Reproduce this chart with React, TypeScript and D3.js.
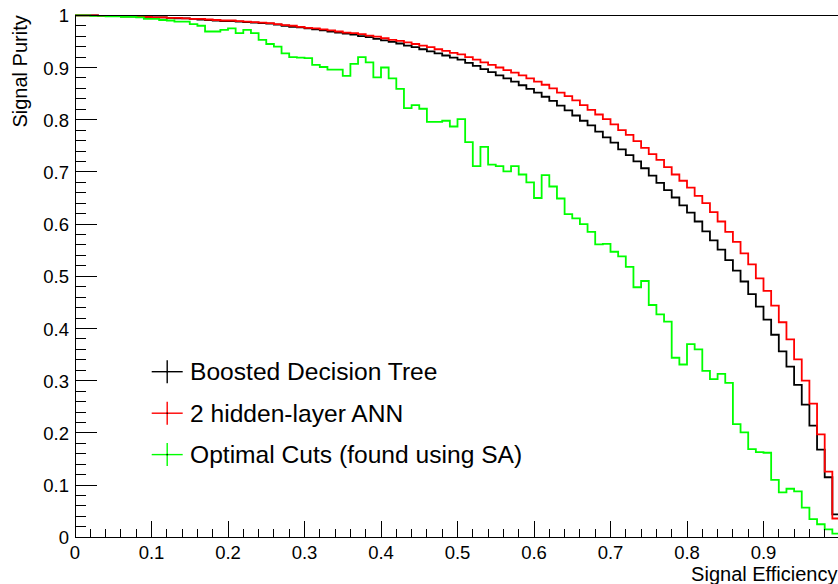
import React from 'react';
import * as d3 from 'd3';

// Histogram binning of signal efficiency: 100 bins over [0, 1]
const nBins = 100;
const effLow = 0;
const effHigh = 1;

// Boosted Decision Tree: purity per efficiency bin
const bdtPurity = [
  1.000, 1.000, 1.000, 0.999, 0.999, 0.999, 0.998, 0.998, 0.997, 0.997,
  0.996, 0.996, 0.995, 0.994, 0.994, 0.993, 0.992, 0.991, 0.990, 0.989,
  0.989, 0.988, 0.987, 0.986, 0.985, 0.984, 0.982, 0.980, 0.978, 0.977,
  0.975, 0.973, 0.971, 0.969, 0.967, 0.965, 0.963, 0.960, 0.958, 0.955,
  0.952, 0.949, 0.946, 0.942, 0.939, 0.935, 0.931, 0.927, 0.923, 0.919,
  0.915, 0.909, 0.903, 0.897, 0.891, 0.885, 0.879, 0.873, 0.866, 0.859,
  0.852, 0.844, 0.836, 0.827, 0.818, 0.808, 0.798, 0.789, 0.777, 0.766,
  0.756, 0.743, 0.732, 0.720, 0.707, 0.693, 0.679, 0.665, 0.651, 0.636,
  0.622, 0.605, 0.586, 0.569, 0.551, 0.531, 0.511, 0.490, 0.466, 0.442,
  0.417, 0.388, 0.356, 0.327, 0.292, 0.254, 0.214, 0.168, 0.115, 0.044,
];

// 2 hidden-layer ANN
const annPurity = [
  1.000, 1.000, 1.000, 0.999, 0.999, 0.999, 0.998, 0.998, 0.997, 0.997,
  0.996, 0.996, 0.995, 0.995, 0.994, 0.993, 0.993, 0.992, 0.991, 0.990,
  0.990, 0.989, 0.988, 0.987, 0.986, 0.985, 0.983, 0.981, 0.980, 0.978,
  0.976, 0.975, 0.973, 0.971, 0.969, 0.967, 0.966, 0.964, 0.961, 0.959,
  0.956, 0.953, 0.951, 0.948, 0.945, 0.942, 0.939, 0.935, 0.932, 0.928,
  0.925, 0.920, 0.915, 0.910, 0.905, 0.900, 0.895, 0.890, 0.885, 0.879,
  0.873, 0.867, 0.860, 0.852, 0.845, 0.837, 0.828, 0.819, 0.810, 0.801,
  0.791, 0.780, 0.771, 0.759, 0.746, 0.734, 0.723, 0.709, 0.695, 0.683,
  0.670, 0.654, 0.640, 0.623, 0.605, 0.585, 0.566, 0.544, 0.523, 0.496,
  0.472, 0.444, 0.412, 0.379, 0.341, 0.300, 0.256, 0.197, 0.126, 0.036,
];

// Optimal Cuts (found using SA)
const cutsPurity = [
  1.000, 1.000, 0.999, 0.999, 0.998, 0.998, 0.997, 0.997, 0.996, 0.993,
  0.993, 0.991, 0.990, 0.988, 0.988, 0.983, 0.980, 0.969, 0.969, 0.972,
  0.975, 0.966, 0.972, 0.966, 0.953, 0.945, 0.940, 0.927, 0.920, 0.919,
  0.918, 0.905, 0.901, 0.896, 0.896, 0.884, 0.907, 0.920, 0.910, 0.881,
  0.900, 0.879, 0.859, 0.822, 0.828, 0.821, 0.796, 0.796, 0.798, 0.787,
  0.801, 0.757, 0.711, 0.748, 0.714, 0.711, 0.701, 0.711, 0.695, 0.680,
  0.650, 0.694, 0.672, 0.649, 0.619, 0.611, 0.600, 0.585, 0.561, 0.562,
  0.547, 0.538, 0.518, 0.479, 0.491, 0.445, 0.427, 0.413, 0.344, 0.331,
  0.370, 0.360, 0.319, 0.303, 0.313, 0.296, 0.217, 0.201, 0.169, 0.163,
  0.162, 0.110, 0.086, 0.093, 0.088, 0.057, 0.035, 0.025, 0.015, 0.007,
];

const seriesNames = ['Boosted Decision Tree', '2 hidden-layer ANN', 'Optimal Cuts (found using SA)'];
const seriesColors = ['#000000', '#ff0000', '#00ff00'];
const seriesValues = [bdtPurity, annPurity, cutsPurity];

const xTickLabels = ['0', '0.1', '0.2', '0.3', '0.4', '0.5', '0.6', '0.7', '0.8', '0.9'];
const yTickLabels = ['0', '0.1', '0.2', '0.3', '0.4', '0.5', '0.6', '0.7', '0.8', '0.9', '1'];
const xTitle = 'Signal Efficiency';
const yTitle = 'Signal Purity';

const W = 838;
const H = 584;
const FONT = '"Liberation Sans", Arial, Helvetica, sans-serif';

export default function App() {
  const x = d3.scaleLinear().domain([effLow, effHigh]).range([75, 840]);
  const y = d3.scaleLinear().domain([0, 1]).range([537.3, 15.3]);
  const binWidth = (effHigh - effLow) / nBins;

  const stepLine = d3
    .line<[number, number]>()
    .x((d) => x(d[0]))
    .y((d) => y(d[1]))
    .curve(d3.curveStepAfter);

  const histPath = (vals: number[]) => {
    const pts: [number, number][] = vals.map((v, i) => [effLow + i * binWidth, v]);
    pts.push([effHigh, vals[vals.length - 1]]);
    return stepLine(pts) || '';
  };

  const x0 = x(0);
  const y0 = y(0);
  const xMinor = d3.range(0, 50).map((i) => i * 0.02);
  const yMinor = d3.range(0, 51).map((i) => i * 0.02);

  const legendRows = [371.7, 413.2, 454.6];

  return (
    <svg
      width={W}
      height={H}
      style={{ position: 'absolute', left: 0, top: 0, background: '#fff' }}
      fontFamily={FONT}
    >
      <rect x={0} y={0} width={W} height={H} fill="#fff" />

      {/* histograms */}
      {seriesValues.map((vals, k) => (
        <path
          key={seriesNames[k]}
          d={histPath(vals)}
          fill="none"
          stroke={seriesColors[k]}
          strokeWidth={1.8}
        />
      ))}

      {/* frame */}
      <g stroke="#000" strokeWidth={1} shapeRendering="crispEdges">
        <line x1={x0} y1={y(1)} x2={x(1)} y2={y(1)} />
        <line x1={x0} y1={y0} x2={x(1)} y2={y0} />
        <line x1={x0} y1={y0} x2={x0} y2={y(1)} />
        {xMinor.map((t, i) => (
          <line
            key={'xt' + i}
            x1={x(t)}
            x2={x(t)}
            y1={y0}
            y2={y0 - (i % 5 === 0 ? 16 : 8)}
          />
        ))}
        {yMinor.map((t, i) => (
          <line
            key={'yt' + i}
            x1={x0}
            x2={x0 + (i % 5 === 0 ? 22 : 11)}
            y1={y(t)}
            y2={y(t)}
          />
        ))}
      </g>

      {/* tick labels */}
      <g fontSize={18.5} fill="#000">
        {xTickLabels.map((lab, i) => (
          <text key={'xl' + i} x={x(i / 10)} y={559} textAnchor="middle">
            {lab}
          </text>
        ))}
        {yTickLabels.map((lab, i) => (
          <text key={'yl' + i} x={69} y={y(i / 10) + 7} textAnchor="end">
            {lab}
          </text>
        ))}
      </g>

      {/* axis titles */}
      <text x={837.5} y={580.5} fontSize={20} textAnchor="end" fill="#000">
        {xTitle}
      </text>
      <text
        transform={`translate(27,${y(1)}) rotate(-90)`}
        fontSize={20}
        textAnchor="end"
        fill="#000"
      >
        {yTitle}
      </text>

      {/* legend */}
      {seriesNames.map((name, k) => {
        const ry = legendRows[k];
        return (
          <g key={'lg' + name}>
            <line x1={151.7} x2={182.7} y1={ry} y2={ry} stroke={seriesColors[k]} strokeWidth={1.4} />
            <line x1={167.2} x2={167.2} y1={ry - 11.5} y2={ry + 11.5} stroke={seriesColors[k]} strokeWidth={1.4} />
            <rect x={166.5} y={ry - 0.7} width={1.4} height={1.4} fill="#000" />
            <text x={190} y={ry + 8.5} fontSize={24.6} fill="#000">
              {name}
            </text>
          </g>
        );
      })}
    </svg>
  );
}
